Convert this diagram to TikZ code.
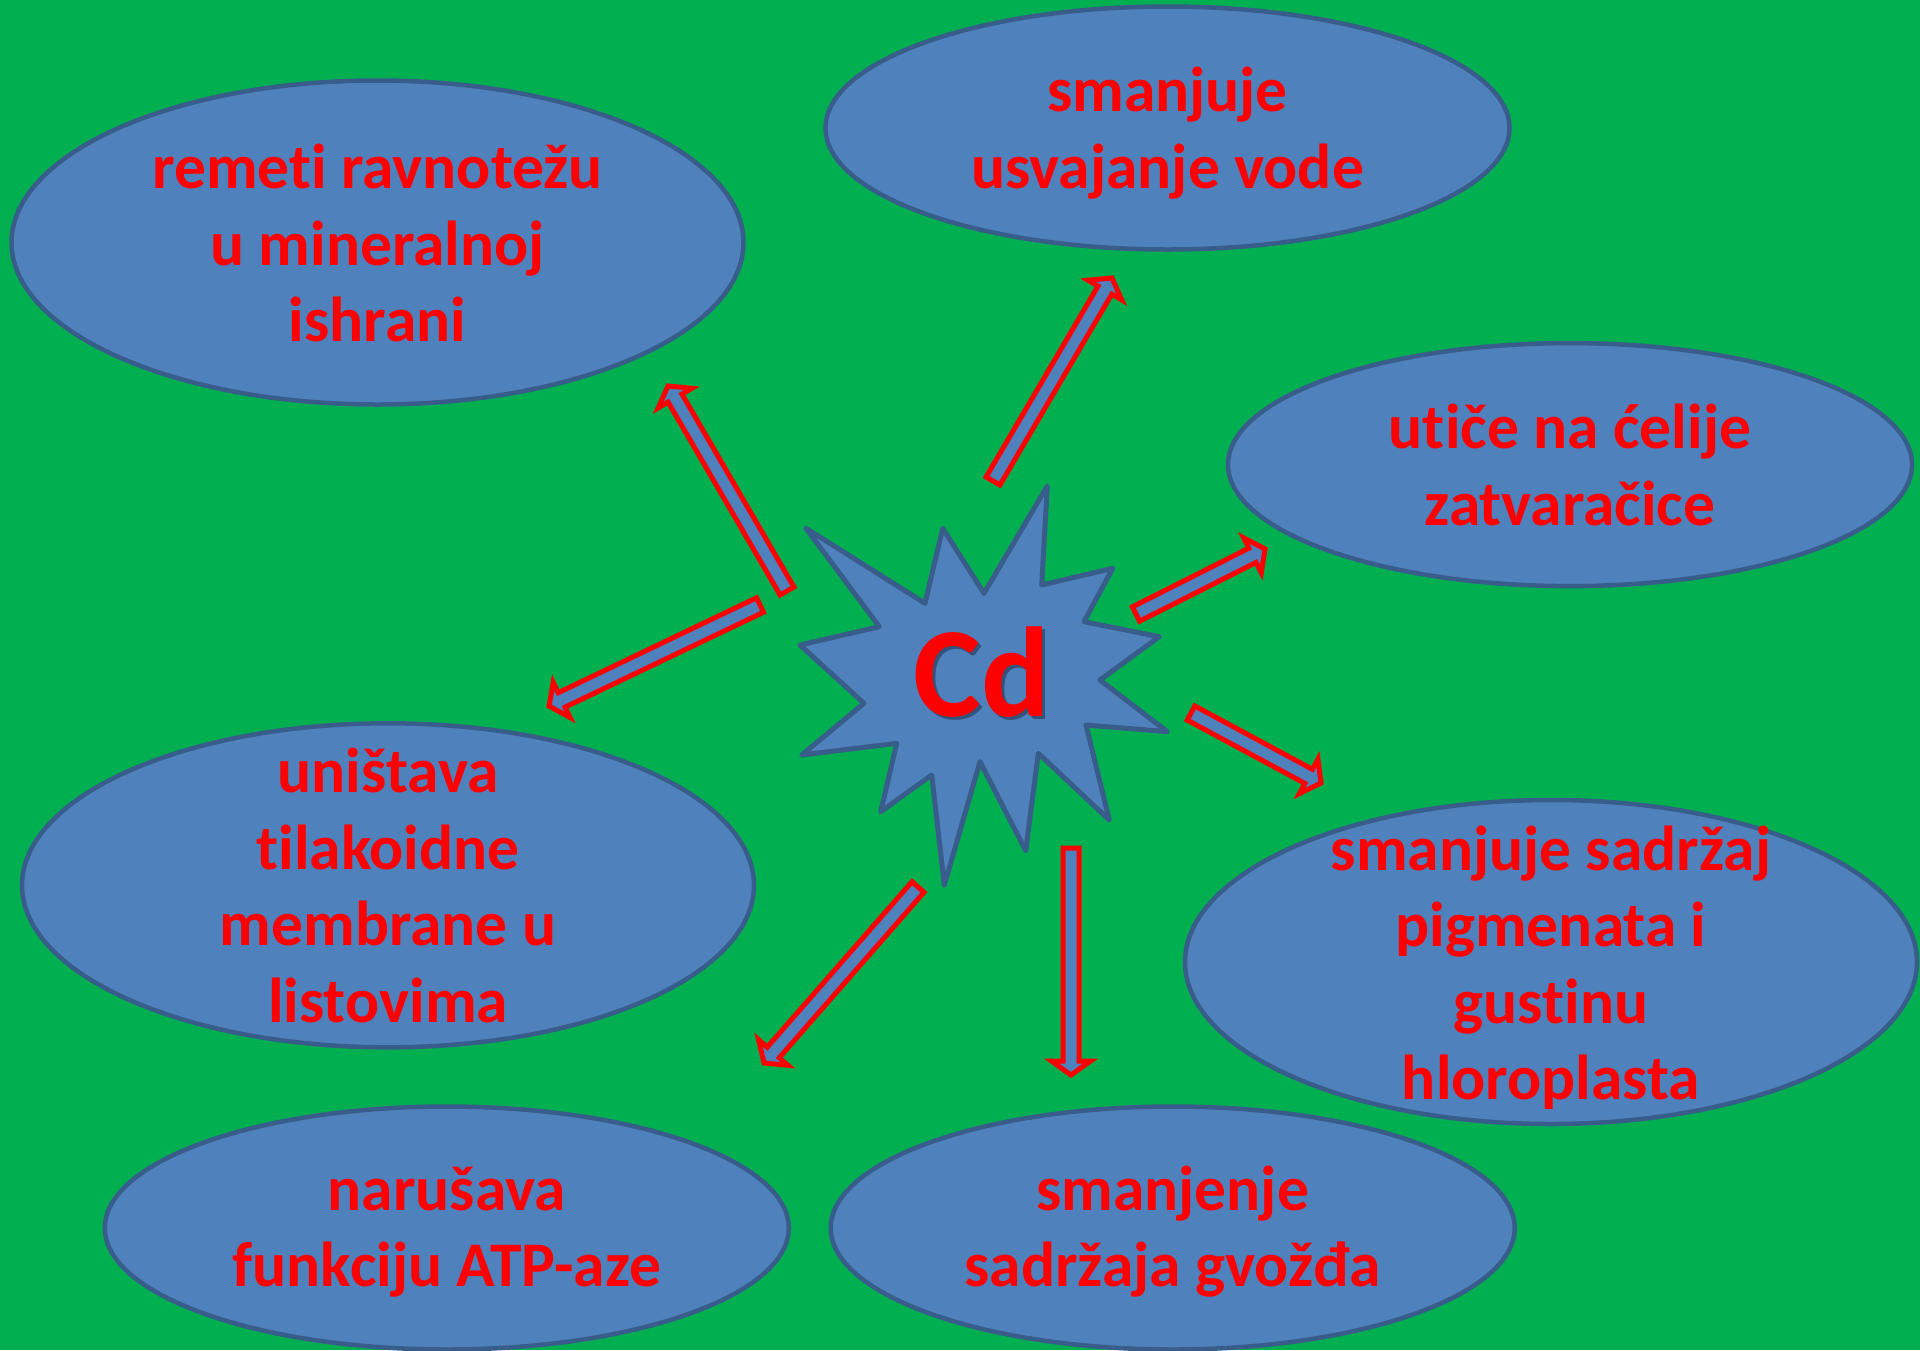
\documentclass[tikz,border=0pt]{standalone}
\usepackage{fontspec}
\setmainfont{Carlito}[Ligatures={NoCommon,NoDiscretionary,NoRare,NoContextual}]
\usetikzlibrary{calc,shapes.geometric}
\definecolor{bggreen}{HTML}{00B050}
\definecolor{shapeblue}{HTML}{4F81BD}
\definecolor{edgeblue}{HTML}{385D8A}
\definecolor{txtred}{HTML}{FF0000}
\tikzset{
  bigoval/.style={shape=ellipse, draw=edgeblue, fill=shapeblue, line width=4.5pt, inner sep=0pt,
    minimum width=732pt, minimum height=324pt},
  smalloval/.style={shape=ellipse, draw=edgeblue, fill=shapeblue, line width=4.5pt, inner sep=0pt,
    minimum width=684pt, minimum height=243pt},
  lbl/.style={text=txtred, font=\bfseries\fontsize{63.5}{76.6}\selectfont, anchor=base, inner sep=0pt},
  barrow/.style={draw=txtred, fill=shapeblue, line width=5pt, line join=miter},
  starshape/.style={draw=edgeblue, fill=shapeblue, line width=5pt, line join=round},
  cdfont/.style={font=\bfseries\fontsize{128}{128}\selectfont, anchor=base, inner sep=0pt},
}
\newcommand\blockarrow[2]{%
  \path let \p1=($(#2)-(#1)$) in \pgfextra{%
    \pgfmathsetmacro\baang{atan2(\y1,\x1)}%
    \pgfmathsetmacro\balen{veclen(\x1,\y1)}%
    \global\let\baang\baang \global\let\balen\balen};
  \begin{scope}[shift={(#1)}, rotate=\baang]
    \draw[barrow] (0,8) -- (\balen-14,8) -- (\balen-14,19.5) -- (\balen,0)
      -- (\balen-14,-19.5) -- (\balen-14,-8) -- (0,-8) -- cycle;
  \end{scope}}
\begin{document}
\begin{tikzpicture}[x=1pt,y=-1pt]
\useasboundingbox (0,0) rectangle (1920,1350);
\fill[bggreen] (0,0) rectangle (1920,1350);

% ellipses
\node[bigoval]   (e1) at (377.5,242.5) {};
\node[smalloval] (e2) at (1167.5,128) {};
\node[smalloval] (e3) at (1570,464.6) {};
\node[bigoval]   (e4) at (1551,962) {};
\node[bigoval]   (e5) at (388,885.3) {};
\node[smalloval] (e6) at (446.8,1228) {};
\node[smalloval] (e7) at (1172.7,1228) {};

% labels
\node[lbl] (t1a) at (377.5,188.3) {remeti ravnotežu};
\node[lbl] (t1b) at (377.5,265) {u mineralnoj};
\node[lbl] (t1c) at (377.5,341.7) {ishrani};

\node[lbl] (t2a) at (1167.5,111.7) {smanjuje};
\node[lbl] (t2b) at (1167.5,188.3) {usvajanje vode};

\node[lbl] (t3a) at (1570,448.5) {utiče na ćelije};
\node[lbl] (t3b) at (1570,525) {zatvaračice};

\node[lbl] (t4a) at (1551,870) {smanjuje sadržaj};
\node[lbl] (t4b) at (1551,946.5) {pigmenata i};
\node[lbl] (t4c) at (1551,1023) {gustinu};
\node[lbl] (t4d) at (1551,1099.5) {hloroplasta};

\node[lbl] (t5a) at (388,792) {uništava};
\node[lbl] (t5b) at (388,869) {tilakoidne};
\node[lbl] (t5c) at (388,945.5) {membrane u};
\node[lbl] (t5d) at (388,1022.5) {listovima};

\node[lbl] (t6a) at (446.8,1210) {narušava};
\node[lbl] (t6b) at (446.8,1286.6) {funkciju ATP-aze};

\node[lbl] (t7a) at (1172.7,1210) {smanjenje};
\node[lbl] (t7b) at (1172.7,1286.6) {sadržaja gvožđa};

% star
\draw[starshape] (806,528.3) -- (925,603.3) -- (942.7,528.3) -- (984,593.3) -- (1047.3,486)
  -- (1041.7,585) -- (1112.7,568.3) -- (1084,621.7) -- (1159.3,636.7) -- (1100,680)
  -- (1167.3,731.7) -- (1086,725) -- (1109.3,820) -- (1038.3,753.3) -- (1025.7,850.7)
  -- (980,761.7) -- (944.3,885) -- (931.7,775) -- (880.7,811.7) -- (896.7,743.3)
  -- (801.7,755) -- (864,703.3) -- (800,645) -- (879.3,626.7) -- cycle;
\node[cdfont, text=black, opacity=0.35] (cdshadow) at (984.5,719.5) {Cd};
\node[cdfont, text=txtred] (cd) at (981.7,716.7) {Cd};

% arrow ends
\coordinate (a1s) at (787,591);   \coordinate (a1e) at (668,386);
\coordinate (a2s) at (993,481);   \coordinate (a2e) at (1112,278);
\coordinate (a3s) at (1136,614);  \coordinate (a3e) at (1265,549);
\coordinate (a4s) at (1191,713);  \coordinate (a4e) at (1321,783);
\coordinate (a5s) at (1071,848);  \coordinate (a5e) at (1071,1075);
\coordinate (a6s) at (918,887);   \coordinate (a6e) at (764,1063);
\coordinate (a7s) at (760,605);   \coordinate (a7e) at (549,706);

\blockarrow{a1s}{a1e}
\blockarrow{a2s}{a2e}
\blockarrow{a3s}{a3e}
\blockarrow{a4s}{a4e}
\blockarrow{a5s}{a5e}
\blockarrow{a6s}{a6e}
\blockarrow{a7s}{a7e}
\end{tikzpicture}
\end{document}
